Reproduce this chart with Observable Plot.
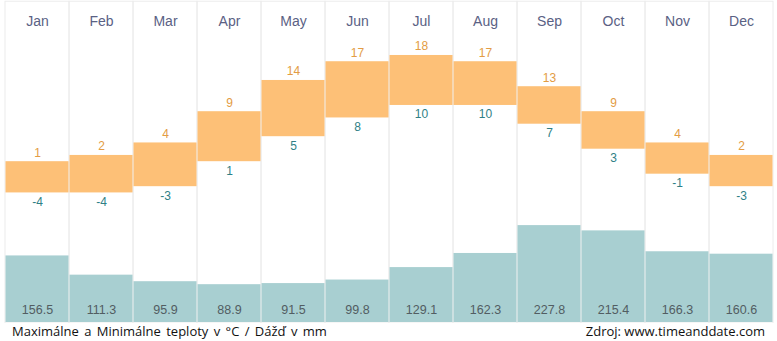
<!DOCTYPE html>
<html>
<head>
<meta charset="utf-8">
<script src="https://cdn.jsdelivr.net/npm/d3@7"></script>
<script src="https://cdn.jsdelivr.net/npm/@observablehq/plot@0.6"></script>
<style>
  html, body { margin: 0; padding: 0; background: #fff; }
  #wrap { position: relative; width: 777px; height: 323px; }
  #wrap > svg { position: absolute; left: 0; top: 0; }
  #cap { width: 777px; height: 18px; display: flex; justify-content: space-between;
         font-family: "Open Sans", sans-serif; font-size: 13px; color: #111; line-height: 17px; }
  #cap span:first-child { padding-left: 12px; word-spacing: 2px; }
  #cap span:last-child { padding-right: 12px; }
</style>
</head>
<body>
<div id="wrap"></div>
<div id="cap"><span>Maximálne a Minimálne teploty v °C / Dážď v mm</span><span>Zdroj: www.timeanddate.com</span></div>
<script>
const months = ["Jan","Feb","Mar","Apr","May","Jun","Jul","Aug","Sep","Oct","Nov","Dec"];
const tMax = [1, 2, 4, 9, 14, 17, 18, 17, 13, 9, 4, 2];
const tMin = [-4, -4, -3, 1, 5, 8, 10, 10, 7, 3, -1, -3];
const rain = [156.5, 111.3, 95.9, 88.9, 91.5, 99.8, 129.1, 162.3, 227.8, 215.4, 166.3, 160.6];

const data = months.map((m, i) => ({month: m, max: tMax[i], min: tMin[i], rain: rain[i]}));
const font = "'Liberation Sans', Arial, sans-serif";

const tempPlot = Plot.plot({
  width: 777, height: 323,
  marginTop: 0, marginBottom: 0, marginLeft: 0, marginRight: 0,
  style: {fontFamily: font, background: "transparent"},
  x: {type: "band", domain: months, padding: 0, axis: null},
  y: {domain: [-24.9, 26.8], axis: null},
  marks: [
    Plot.barY(months, {x: d => d, y1: 26.6, y2: -24.9, fill: "none", stroke: "#ececec", strokeWidth: 1}),
    Plot.barY(data, {x: "month", y1: "min", y2: "max", fill: "#fdc077", insetLeft: 0.5, insetRight: 0.5}),
    Plot.text(data, {x: "month", y: "max", text: "max", dy: -9, fill: "#e39c44", fontSize: 12}),
    Plot.text(data, {x: "month", y: "min", text: "min", dy: 9, fill: "#2f7f86", fontSize: 12}),
    Plot.text(months, {x: d => d, frameAnchor: "top", dy: 16, text: d => d, fill: "#5a6184", fontSize: 14})
  ]
});

const rainPlot = Plot.plot({
  width: 777, height: 323,
  marginTop: 0, marginBottom: 1, marginLeft: 0, marginRight: 0,
  style: {fontFamily: font, background: "transparent"},
  x: {type: "band", domain: months, padding: 0, axis: null},
  y: {domain: [0, 757], axis: null},
  marks: [
    Plot.barY(data, {x: "month", y: "rain", fill: "#a8cfd1", insetLeft: 0.5, insetRight: 0.5}),
    Plot.text(data, {x: "month", frameAnchor: "bottom", dy: -9, text: d => d.rain.toFixed(1), fill: "#525d62", fontSize: 12.5})
  ]
});

const wrap = document.getElementById("wrap");
wrap.appendChild(tempPlot);
wrap.appendChild(rainPlot);
</script>
</body>
</html>
